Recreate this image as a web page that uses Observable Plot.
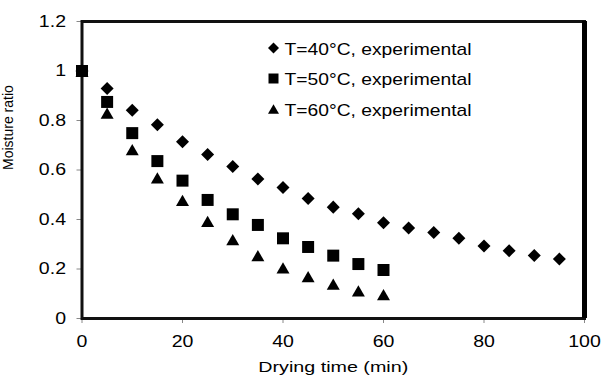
<!DOCTYPE html>
<html><head><meta charset="utf-8">
<script src="https://cdn.jsdelivr.net/npm/d3@7"></script>
<script src="https://cdn.jsdelivr.net/npm/@observablehq/plot@0.6"></script>
<style>html,body{margin:0;padding:0;background:#fff} svg{display:block}</style>
</head><body><div id="chart"></div>
<script>
const seriesLabels = ["T=40°C, experimental", "T=50°C, experimental", "T=60°C, experimental"];

const time40 = [0, 5, 10, 15, 20, 25, 30, 35, 40, 45, 50, 55, 60, 65, 70, 75, 80, 85, 90, 95];
const ratio40 = [1, 0.929, 0.841, 0.783, 0.714, 0.663, 0.614, 0.564, 0.529, 0.485, 0.450, 0.423, 0.387, 0.366, 0.347, 0.324, 0.293, 0.274, 0.255, 0.240];

const time50 = [0, 5, 10, 15, 20, 25, 30, 35, 40, 45, 50, 55, 60];
const ratio50 = [1, 0.875, 0.749, 0.636, 0.557, 0.479, 0.421, 0.378, 0.324, 0.289, 0.254, 0.220, 0.196];

const time60 = [0, 5, 10, 15, 20, 25, 30, 35, 40, 45, 50, 55, 60];
const ratio60 = [1, 0.830, 0.682, 0.568, 0.477, 0.393, 0.319, 0.254, 0.205, 0.169, 0.139, 0.112, 0.097];

const xDomain = [0, 100];
const yDomain = [0, 1.2];
const xTicks = [0, 20, 40, 60, 80, 100];
const xTickLabels = ["0", "20", "40", "60", "80", "100"];
const yTicks = [0, 0.2, 0.4, 0.6, 0.8, 1, 1.2];
const yTickLabels = ["0", "0.2", "0.4", "0.6", "0.8", "1", "1.2"];
const xTitle = "Drying time (min)";
const yTitle = "Moisture ratio";

const rows = (ts, vs) => ts.map((t, i) => ({t, mr: vs[i]}));
const d40 = rows(time40, ratio40);
const d50 = rows(time50, ratio50);
const d60 = rows(time60, ratio60);

const legendSymbols = [
  {symbol: "diamond2", r: 4.95, dy: 0},
  {symbol: "square", r: 5.64, dy: 0},
  {symbol: "triangle", r: 4.08, dy: 1.6}
];

const legendMarks = [];
seriesLabels.forEach((lab, i) => {
  const s = legendSymbols[i];
  legendMarks.push(Plot.dot([lab], {frameAnchor: "top-left", dx: 191.5, dy: 26.5 + 30.5 * i + s.dy, symbol: s.symbol, r: s.r, fill: "#000", stroke: "none"}));
  legendMarks.push(Plot.text([lab], {text: d => d, frameAnchor: "top-left", dx: 202.5, dy: 28 + 30.5 * i, textAnchor: "start", lineAnchor: "middle", fontSize: 17, fill: "#000"}));
});

const chart = Plot.plot({
  width: 603,
  height: 377,
  marginLeft: 81.5,
  marginRight: 19,
  marginTop: 21,
  marginBottom: 59,
  style: {fontFamily: "'Liberation Sans', Arial, sans-serif", fontSize: "16px", background: "#fff", color: "#000"},
  x: {domain: xDomain},
  y: {domain: yDomain},
  marks: [
    Plot.axisX({ticks: xTicks, tickFormat: (d, i) => xTickLabels[i], tickSize: 5, tickPadding: 12, stroke: "#888", fill: "#000", fontSize: 16, label: null}),
    Plot.axisY({ticks: yTicks, tickFormat: (d, i) => yTickLabels[i], tickSize: 5, tickPadding: 11, stroke: "#888", fill: "#000", fontSize: 16, label: null}),
    Plot.frame({stroke: "#111", strokeWidth: 3}),
    Plot.ruleX([xDomain[1]], {stroke: "#000", strokeWidth: 5}),
    Plot.dot(d40, {x: "t", y: "mr", symbol: "diamond2", r: 5.86, fill: "#000", stroke: "none"}),
    Plot.dot(d60, {x: "t", y: "mr", symbol: "triangle", r: 4.82, dy: 1.9, fill: "#000", stroke: "none"}),
    Plot.dot(d50, {x: "t", y: "mr", symbol: "square", r: 6.77, fill: "#000", stroke: "none"}),
    ...legendMarks,
    Plot.text([xTitle], {text: d => d, frameAnchor: "bottom", dy: 49, lineAnchor: "middle", fontSize: 15, fill: "#000"}),
    Plot.text([yTitle], {text: d => d, frameAnchor: "left", dx: -73, rotate: -90, lineAnchor: "middle", fontSize: 14, fill: "#000"})
  ]
});

document.getElementById("chart").appendChild(chart);

const svg = d3.select(chart);
svg.selectAll("text")
  .filter(function () { return seriesLabels.includes(this.textContent); })
  .attr("textLength", 187).attr("lengthAdjust", "spacingAndGlyphs");
svg.selectAll("text")
  .filter(function () { return this.textContent === xTitle; })
  .attr("textLength", 150).attr("lengthAdjust", "spacingAndGlyphs");
// tick labels in the reference are horizontally stretched
svg.selectAll("g[aria-label$='tick label'] text").each(function () {
  const w = this.getComputedTextLength();
  if (w > 0) d3.select(this).attr("textLength", w * 1.22).attr("lengthAdjust", "spacingAndGlyphs");
});
</script>
</body></html>
